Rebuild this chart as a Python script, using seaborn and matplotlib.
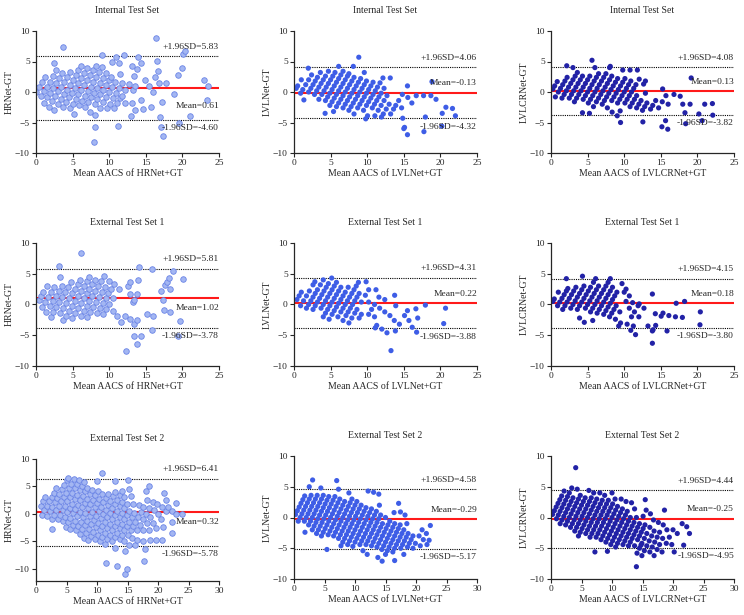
import pandas as pd
import seaborn as sns
import matplotlib.pyplot as plt

sns.set_style('ticks')
plt.rcParams['font.family'] = ['Liberation Serif', 'DejaVu Serif']
plt.rcParams['axes.linewidth'] = 0.9

# differences (model - GT) grouped by GT score (list index = GT AACS)
int_hrnet = [
    [0.0, 0.8, 1.6, 2.4, 4.8, 7.4],
    [-0.7, 0.1, 0.9, 1.7, 2.6, 3.6],
    [-1.8, -0.9, -0.1, 0.7, 1.5, 2.3, 3.1],
    [-2.4, -1.5, -0.7, 0.1, 0.9, 1.7, 2.5, 3.3],
    [-3.0, -2.0, -1.2, -0.4, 0.4, 1.2, 2.0, 2.8, 3.6, 4.3],
    [-2.5, -1.7, -0.9, -0.1, 0.7, 1.5, 2.3, 3.1, 3.9],
    [-2.7, -2.0, -1.2, -0.4, 0.4, 1.2, 2.0, 2.8, 3.6, 4.3, 6.0],
    [-3.6, -2.2, -1.5, -0.7, 0.1, 0.9, 1.7, 2.5, 3.3, 4.1],
    [-2.5, -1.7, -0.9, -0.1, 0.7, 1.5, 2.3, 3.1, 4.9, 5.8],
    [-3.3, -2.0, -1.2, -0.4, 0.4, 1.2, 2.0, 2.5, 4.8, 6.1],
    [-3.8, -2.6, -1.6, -0.8, 0.0, 0.8, 1.6, 3.0],
    [-5.8, -2.7, -1.9, -1.0, -0.2, 0.7, 1.5, 4.3, 5.8],
    [-8.2, -2.6, -1.8, -1.0, -0.6, 0.4, 1.3, 2.7, 3.7, 4.8, 8.8],
    [-1.8, 0.4, 1.0],
    [-5.5, -1.8, 1.9, 5.1],
    [-4.0, -2.9, -1.3, 1.0, 2.5, 3.4],
    [-2.8, 0.0, 1.5],
    [-2.5, 1.5, 6.3, 6.8],
    [-1.6, 2.8, 4.0],
    [-4.1, -0.4],
    [-5.8],
    [-7.2],
    [-5.0, 2.0],
    [-4.0, 1.0],
    [-1.3],
]
int_lvlnet = [
    [0.6, 1.0, 2.0, 3.9],
    [-0.2, 0.4, 1.2, 2.0, 2.8],
    [-1.3, 0.0, 0.6, 1.2, 1.8, 2.4, 3.2],
    [-0.4, 0.2, 0.8, 1.4, 2.0, 2.6, 3.4],
    [-1.2, -0.4, 0.2, 0.8, 1.4, 2.0, 2.6, 3.2, 4.2],
    [-1.4, -0.8, -0.2, 0.4, 1.0, 1.6, 2.2, 2.8, 3.4],
    [-3.5, -2.2, -1.6, -1.0, -0.4, 0.2, 0.8, 1.4, 2.0, 2.6, 3.0, 4.2, 5.7],
    [-3.2, -2.4, -1.8, -1.2, -0.6, 0.0, 0.6, 1.2, 1.8, 2.4],
    [-2.6, -2.0, -1.4, -0.8, -0.2, 0.4, 1.0, 1.6, 2.2, 3.2],
    [-3.0, -2.4, -1.8, -1.2, -0.6, 0.0, 0.6, 1.2, 1.8],
    [-3.6, -2.6, -2.0, -1.4, -0.8, -0.2, 0.4, 1.0, 1.6],
    [-3.0, -2.2, -1.6, -1.0, -0.4, 0.2, 0.8, 1.5, 2.3],
    [-4.4, -3.9, -2.6, -2.0, -1.4, -0.8, -0.2, 0.6, 2.3],
    [-3.9, -3.0, -2.2, -1.4, -0.6],
    [-4.1, -3.6, -2.8, -2.0],
    [-3.6, -2.8, -2.2, -1.4, -0.4, 1.0],
    [-2.6, -0.9],
    [-4.3, -1.8, -0.6],
    [-5.8, -6.0, -0.6, 1.7],
    [-7.0, -0.6],
    [-4.1, -1.2],
    [-6.5],
    [-3.5, -2.5],
    [-5.6, -2.7],
    [-3.9],
]
int_lvlcrnet = [
    [0.5, 1.0, 1.7, 4.3],
    [-0.8, 0.0, 0.6, 1.2, 1.8, 2.4, 4.0],
    [-1.0, -0.4, 0.2, 0.8, 1.4, 2.0, 2.6, 3.2],
    [-1.0, -0.4, 0.2, 0.8, 1.4, 2.0, 2.6, 5.2],
    [-1.6, -1.0, -0.4, 0.2, 0.8, 1.4, 2.0, 2.6, 4.0],
    [-1.2, -0.6, 0.0, 0.6, 1.2, 1.8, 2.4, 3.0],
    [-3.4, -1.8, -1.2, -0.6, 0.0, 0.6, 1.2, 1.8, 2.4, 3.0, 4.0, 4.2],
    [-3.5, -2.4, -1.6, -1.0, -0.4, 0.2, 0.8, 1.4, 2.0, 2.6],
    [-2.0, -1.4, -0.8, -0.2, 0.4, 1.0, 1.6, 2.2, 3.6],
    [-2.6, -1.4, -0.8, -0.2, 0.4, 1.0, 1.6, 2.2, 3.6],
    [-3.3, -1.8, -1.2, -0.6, 0.0, 0.6, 1.2, 1.8, 3.6],
    [-3.9, -3.1, -1.8, -1.2, -0.6, 0.0, 0.6, 1.2, 2.1],
    [-5.0, -2.4, -1.8, -1.2, -0.6, 1.3, 1.8],
    [-2.6, -2.0, -1.4, -0.2],
    [-3.0, -2.4, -1.8],
    [-4.9, -2.8, -2.2, -1.4, 0.5],
    [-2.6, -1.6, -0.6],
    [-2.0, -0.4],
    [-5.7, -4.7, -0.7, 2.3],
    [-6.1, -2.0],
    [-3.4, -2.0],
    [-5.2],
    [-3.6, -2.0],
    [-4.7, -1.9],
    [-3.8],
]
ext1_hrnet = [
    [0.8, 1.4, 2.0, 3.0, 6.3],
    [-0.4, 0.4, 1.2, 2.0, 2.8, 4.5],
    [-1.3, -0.2, 0.6, 1.4, 2.2, 3.0, 8.3],
    [-2.0, -1.3, -0.4, 0.4, 1.2, 2.0, 2.8, 3.6],
    [-1.4, -0.6, 0.2, 1.0, 1.8, 2.6, 3.4, 4.0],
    [-2.6, -1.8, -1.0, -0.2, 0.6, 1.4, 2.2, 3.0, 3.8, 4.4],
    [-2.2, -1.4, -0.6, 0.2, 1.0, 1.8, 2.6, 3.4, 4.0],
    [-1.8, -1.0, -0.2, 0.6, 1.4, 2.2, 3.0, 3.8, 4.6],
    [-2.0, -1.2, -0.4, 0.4, 1.2, 2.0, 2.8, 3.9],
    [-1.4, -0.6, 0.2, 1.0, 1.8, 2.5, 3.4],
    [-1.6, -0.8, 0.0, 1.0, 2.6],
    [-1.0, 3.0, 3.7, 6.1],
    [-1.8, 1.7, 4.0],
    [-2.9, -1.8, 0.4, 0.8, 1.7, 5.8],
    [-2.3],
    [-3.1, -2.5],
    [-7.5, -5.1, -1.6, 2.2, 3.2, 3.7, 4.3, 5.5],
    [-6.4, -5.2, -1.9, 0.8, 2.5],
    [-4.2, -0.9, 4.2],
    [-1.3],
    [],
    [-2.7],
    [-5.1],
]
ext1_lvlnet = [
    [0.8, 1.4, 2.0],
    [-0.2, 0.6, 1.4, 2.2, 3.2, 3.7],
    [-0.6, 0.0, 0.6, 1.2, 1.8, 2.4, 3.2, 4.0],
    [-0.8, -0.2, 0.4, 1.0, 1.6, 2.2, 2.8, 3.4, 4.3],
    [-0.6, 0.0, 0.6, 1.2, 1.8, 2.4, 3.0, 3.6],
    [-2.0, -1.4, -0.8, -0.2, 0.4, 1.0, 1.6, 2.2, 2.8],
    [-2.4, -1.6, -1.0, -0.4, 0.2, 0.8, 1.4, 2.0, 2.8],
    [-2.0, -1.2, -0.6, 0.0, 0.6, 1.2, 1.8, 2.4, 3.0, 3.6],
    [-2.6, -1.8, -1.2, -0.6, 0.0, 0.6, 1.2, 1.8, 3.7],
    [-3.0, -2.2, -1.4, -0.8, 0.4, 1.5, 2.4],
    [-2.2, -1.6, 0.4, 2.4],
    [-1.6, -0.8, 0.0, 1.2],
    [-2.0, -0.6, 0.8],
    [-3.8, -3.4, -1.2, 1.5],
    [-4.0, -1.8, -0.2],
    [-4.6, -2.6],
    [-4.3, -3.2, -1.8, -1.0],
    [-7.5, -2.6, -0.7],
    [-3.7, -2.2, -0.1],
    [-4.5],
    [],
    [-0.6],
    [-3.1],
]
ext1_lvlcrnet = [
    [0.5, 0.9, 2.0, 4.2],
    [-0.2, 0.4, 1.0, 1.6, 2.2, 2.6],
    [-0.8, -0.2, 0.4, 1.0, 1.6, 2.2, 2.8, 4.6],
    [-0.6, 0.0, 0.6, 1.2, 1.8, 2.4, 3.0],
    [-0.8, -0.2, 0.4, 1.0, 1.6, 2.2, 2.8, 3.6, 4.2],
    [-2.2, -0.6, 0.0, 0.6, 1.2, 1.8, 2.4, 3.0],
    [-2.9, -1.2, -0.6, 0.0, 0.6, 1.2, 1.8, 2.4, 3.0, 3.6, 4.2],
    [-2.6, -1.4, -0.8, -0.2, 0.4, 1.0, 1.6, 2.2, 2.8],
    [-1.6, -1.0, -0.4, 0.2, 0.8, 1.4, 2.0, 3.4],
    [-2.0, -1.4, -0.8, -0.2, 2.0, 2.5],
    [-2.4, -1.2, 0.5, 1.4],
    [-3.5, -3.0, -0.6, 0.3],
    [-3.2, -2.0, -1.2, -0.2, 0.1],
    [-4.2, -3.5, -2.0, -0.6, 1.7],
    [-4.9],
    [-3.5, -1.5],
    [-4.3, -4.1, -3.4, -1.9, -1.4],
    [-6.3, -1.8, 0.2],
    [-4.3, -2.0, 0.5],
    [-2.1],
    [],
    [-1.2],
    [-3.3],
]
ext2_hrnet = [
    [1.5, 2.3, 3.1],
    [-0.1, 0.7, 1.5, 2.3, 3.1, 3.9, 4.7],
    [-0.3, 0.5, 1.3, 2.1, 2.9, 3.7, 4.5, 5.3, 6.1, 6.6],
    [-0.9, -0.1, 0.7, 1.5, 2.3, 3.1, 3.9, 4.7, 5.5, 6.3],
    [-2.8, -0.9, -0.1, 0.7, 1.5, 2.3, 3.1, 3.9, 4.7, 5.5, 6.2],
    [-1.3, -0.5, 0.3, 1.1, 1.9, 2.7, 3.5, 4.3, 5.1, 5.9],
    [-2.3, -1.5, -0.7, 0.1, 0.9, 1.7, 2.5, 3.3, 4.1, 4.8],
    [-2.8, -2.0, -1.2, -0.4, 0.4, 1.2, 2.0, 2.8, 3.6, 4.4, 6.0, 7.5],
    [-3.0, -2.2, -1.4, -0.6, 0.2, 1.0, 1.8, 2.6, 3.4, 4.2],
    [-3.6, -2.8, -2.0, -1.2, -0.4, 0.4, 1.2, 2.0, 2.8, 3.6],
    [-4.3, -3.5, -2.7, -1.9, -1.1, -0.3, 0.5, 1.3, 2.1, 2.9, 3.7, 6.0],
    [-4.8, -4.0, -3.2, -2.4, -1.6, -0.8, 0.0, 0.8, 1.6, 2.4, 3.2, 4.0],
    [-4.6, -3.8, -3.0, -2.2, -1.4, -0.6, 0.2, 1.0, 1.8, 2.6, 3.4, 4.2, 6.2],
    [-5.0, -4.2, -3.4, -2.6, -1.8, -1.0, -0.2, 0.6, 1.4, 2.2, 3.0, 4.5],
    [-5.4, -4.6, -3.8, -3.0, -2.2, -1.4, -0.6, 0.2, 1.0, 1.8, 3.3],
    [-5.0, -4.2, -3.4, -2.6, -1.8, -1.0, -0.2, 0.6, 1.8],
    [-8.9, -6.2, -4.6, -3.8, -3.0, -2.2, -1.4, -0.6, 0.2, 1.7, 4.1, 5.1],
    [-5.0, -3.8, -3.0, -2.2, -1.4, -0.6, 0.4, 1.2, 2.5],
    [-9.5, -6.8, -5.6, -4.4, -3.0, -2.0, -1.0, 0.0, 1.0, 2.2],
    [-5.6, -4.8, -3.0, -1.6, -0.6, 0.8, 1.8, 3.9],
    [-10.9, -10.1, -5.0, -3.0, -1.6, 0.0, 1.2, 2.6],
    [-6.4, -4.7, -2.6, -1.0, 0.5, 1.3],
    [-8.6, -4.7, -2.4, 0.5, 2.0],
    [-4.7, -1.5, 0.0],
    [-3.4, 0.0],
]
ext2_lvlnet = [
    [0.5, 1.1, 1.7, 2.3, 2.9, 3.5, 5.0, 6.1],
    [-0.6, 0.0, 0.6, 1.2, 1.8, 2.4, 3.0, 3.6],
    [-0.6, 0.0, 0.6, 1.2, 1.8, 2.4, 3.0, 3.6, 4.8],
    [-2.4, -1.2, -0.6, 0.0, 0.6, 1.2, 1.8, 2.4, 3.0, 3.6],
    [-2.0, -1.4, -0.8, -0.2, 0.4, 1.0, 1.6, 2.2, 2.8, 3.4, 6.0],
    [-2.6, -2.0, -1.4, -0.8, -0.2, 0.4, 1.0, 1.6, 2.2, 2.8, 3.4, 4.6],
    [-3.0, -2.4, -1.8, -1.2, -0.6, 0.0, 0.6, 1.2, 1.8, 2.4, 3.0],
    [-2.8, -2.2, -1.6, -1.0, -0.4, 0.2, 0.8, 1.4, 2.0, 2.6, 4.0],
    [-5.2, -3.0, -2.4, -1.8, -1.2, -0.6, 0.0, 0.6, 1.2, 1.8, 2.4, 3.0],
    [-3.4, -2.8, -2.2, -1.6, -1.0, -0.4, 0.2, 0.8, 1.4, 2.0, 2.6],
    [-4.6, -4.0, -3.4, -2.8, -2.2, -1.6, -1.0, -0.4, 0.2, 0.8, 1.4, 2.0, 4.3],
    [-4.4, -3.8, -3.2, -2.6, -2.0, -1.4, -0.8, -0.2, 0.4, 1.0, 1.6, 4.1],
    [-4.7, -4.0, -3.4, -2.8, -2.2, -1.6, -1.0, -0.4, 0.2, 0.8, 1.4, 3.8],
    [-4.4, -3.8, -3.2, -2.6, -2.0, -1.4, -0.8, -0.2, 0.4, 1.0, 2.0],
    [-5.4, -4.4, -3.8, -3.2, -2.6, -2.0, -1.4, -0.8, -0.2, 0.4],
    [-6.0, -4.6, -4.0, -3.4, -2.8, -2.2, -1.6, -1.0, 0.0],
    [-4.8, -4.2, -3.6, -3.0, -2.4, -1.8, -1.2, -0.6, 0.8, 2.3],
    [-6.5, -5.2, -4.6, -4.0, -3.4, -2.8, -2.2, -1.6, -1.0, 0.9],
    [-7.1, -6.0, -5.4, -4.8, -4.2, -3.6, -3.0, -2.4, -1.8, -1.2, 0.4],
    [-5.6, -5.0, -4.4, -3.8, -3.2, -2.6, -2.0, -1.0],
    [-7.0, -5.0, -4.4, -3.8, -3.2, -2.6],
    [-6.0, -4.8, -4.2, -3.6, -3.0],
    [-5.0, -4.2, -3.0, -2.0],
    [-4.6, -3.6, -2.6, -1.3],
    [-4.4, -3.7],
]
ext2_lvlcrnet = [
    [0.5, 1.1, 1.7, 2.3, 2.9, 3.5, 4.3, 8.1],
    [-0.2, 0.4, 1.0, 1.6, 2.2, 2.8, 3.4, 4.0, 4.8],
    [-1.0, -0.4, 0.2, 0.8, 1.4, 2.0, 2.6, 3.2, 4.6],
    [-1.2, -0.6, 0.0, 0.6, 1.2, 1.8, 2.4, 3.0, 3.6],
    [-1.6, -1.0, -0.4, 0.2, 0.8, 1.4, 2.0, 2.6, 3.2, 4.4],
    [-2.2, -1.6, -1.0, -0.4, 0.2, 0.8, 1.4, 2.0, 2.6, 3.2, 4.0],
    [-3.0, -2.4, -1.8, -1.2, -0.6, 0.0, 0.6, 1.2, 1.8, 2.4, 3.0, 4.0],
    [-2.6, -2.0, -1.4, -0.8, -0.2, 0.4, 1.0, 1.6, 2.2, 2.8, 3.6],
    [-3.2, -2.6, -2.0, -1.4, -0.8, -0.2, 0.4, 1.0, 1.6, 2.2, 2.8, 4.0],
    [-3.2, -2.6, -2.0, -1.4, -0.8, -0.2, 0.4, 1.0, 1.6, 2.2, 3.0],
    [-5.6, -3.6, -3.0, -2.4, -1.8, -1.2, -0.6, 0.0, 0.6, 1.2, 1.8, 3.0],
    [-4.0, -3.4, -2.8, -2.2, -1.6, -1.0, -0.4, 0.2, 0.8, 1.4, 2.6],
    [-5.5, -4.4, -3.8, -3.2, -2.6, -2.0, -1.4, -0.8, -0.2, 0.4, 1.0, 2.4],
    [-4.8, -4.2, -3.6, -3.0, -2.4, -1.8, -1.2, -0.6, 0.0, 1.4],
    [-4.4, -3.8, -3.2, -2.6, -2.0, -1.4, -0.8, 0.0, 2.9],
    [-4.6, -4.0, -3.4, -2.8, -2.2, -1.6, -1.0, 0.2, 1.2],
    [-4.6, -3.6, -3.0, -2.4, -1.8, -1.2, 0.6],
    [-5.8, -5.0, -4.5, -4.2, -3.4, -2.6, -1.6, -0.4],
    [-8.0, -6.2, -5.4, -4.6, -3.8, -3.0, -2.2, -0.8, 1.2],
    [-5.6, -4.8, -4.0, -3.2, -2.4, -1.2],
    [-6.2, -5.2, -4.4, -3.4, -2.0],
    [-5.6, -4.2, -3.2, -2.0],
    [-4.4, -2.6, -1.0],
    [-5.6, -1.5],
    [-4.5, -2.6],
]

titles = ['Internal Test Set', 'External Test Set 1', 'External Test Set 2']
models = ['HRNet', 'LVLNet', 'LVLCRNet']
panel_data = [
    [int_hrnet, int_lvlnet, int_lvlcrnet],
    [ext1_hrnet, ext1_lvlnet, ext1_lvlcrnet],
    [ext2_hrnet, ext2_lvlnet, ext2_lvlcrnet],
]
# mean bias and 95% limits of agreement printed on each panel
bias = [[0.61, -0.13, 0.13], [1.02, 0.22, 0.18], [0.32, -0.29, -0.25]]
upper = [[5.83, 4.06, 4.08], [5.81, 4.31, 4.15], [6.41, 4.58, 4.44]]
lower = [[-4.60, -4.32, -3.82], [-3.78, -3.88, -3.80], [-5.78, -5.17, -4.95]]
mean_below = [[True, False, False], [True, False, False], [True, False, False]]

point_style = {
    'HRNet': dict(color='#a3b6f2', edgecolor='#6a84e6', linewidth=0.6, s=16),
    'LVLNet': dict(color='#3e5de6', edgecolor='none', linewidth=0, s=14),
    'LVLCRNet': dict(color='#2222a6', edgecolor='none', linewidth=0, s=14),
}


def to_frame(diffs_by_gt):
    rows = []
    for gt, ds in enumerate(diffs_by_gt):
        for d in ds:
            rows.append({'mean': gt + d / 2, 'diff': d})
    return pd.DataFrame(rows)


fig = plt.figure(figsize=(7.44, 6.15), dpi=100)
W, H = 744, 615
col_left = [36, 294, 551]
row_box = [(31, 153), (243, 366), (456, 579)]

for r in range(3):
    for c in range(3):
        top, bot = row_box[r]
        ylo = -10
        if r == 2 and c == 0:
            top, bot = 459, 581
            ylo = -12.2
        ax = fig.add_axes([col_left[c] / W, 1 - bot / H, 183 / W, (bot - top) / H])
        df = to_frame(panel_data[r][c])
        m = models[c]
        ax.axhline(bias[r][c], color='#ff1a1a', lw=1.5, zorder=1)
        ax.axhline(upper[r][c], color='black', lw=0.8, ls=(0, (1, 1)), zorder=1)
        ax.axhline(lower[r][c], color='black', lw=0.8, ls=(0, (1, 1)), zorder=1)
        sns.scatterplot(data=df, x='mean', y='diff', ax=ax, zorder=2, **point_style[m])
        xmax = 30 if r == 2 else 25
        ax.set_xlim(0, xmax)
        ax.set_ylim(ylo, 10)
        ax.set_xticks(range(0, xmax + 1, 5))
        ax.set_yticks([-10, -5, 0, 5, 10])
        ax.tick_params(labelsize=6.8, length=3, width=0.8, pad=1.5)
        sns.despine(ax=ax)
        ax.set_xlabel(f'Mean AACS of {m}+GT', fontsize=7, labelpad=1)
        ax.set_ylabel(f'{m}-GT', fontsize=7, labelpad=1)
        ax.set_title(titles[r], fontsize=7, pad=13)

        ax.annotate(f'+1.96SD={upper[r][c]:.2f}', (xmax, upper[r][c]), xytext=(0, 4),
                    textcoords='offset points', ha='right', va='bottom', fontsize=6.8)
        ax.annotate(f'-1.96SD={lower[r][c]:.2f}', (xmax, lower[r][c]), xytext=(0, -3),
                    textcoords='offset points', ha='right', va='top', fontsize=6.8)
        if mean_below[r][c]:
            off = -10 if r == 0 else -4
            ax.annotate(f'Mean={bias[r][c]:.2f}', (xmax, bias[r][c]), xytext=(0, off),
                        textcoords='offset points', ha='right', va='top', fontsize=6.8)
        else:
            ax.annotate(f'Mean={bias[r][c]:.2f}', (xmax, bias[r][c]), xytext=(0, 4),
                        textcoords='offset points', ha='right', va='bottom', fontsize=6.8)

fig.savefig('out.png', dpi=100)
